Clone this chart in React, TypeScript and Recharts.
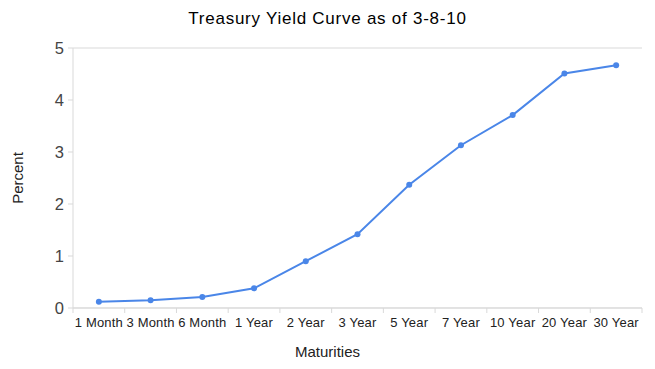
import React from "react";
import { LineChart, Line, XAxis, YAxis, CartesianGrid } from "recharts";

const maturities = ["1 Month", "3 Month", "6 Month", "1 Year", "2 Year", "3 Year", "5 Year", "7 Year", "10 Year", "20 Year", "30 Year"];
const yields = [0.12, 0.15, 0.21, 0.38, 0.90, 1.42, 2.37, 3.13, 3.71, 4.51, 4.67];
const yTicks = [0, 1, 2, 3, 4, 5];

const data = maturities.map((m, i) => ({ m, v: yields[i] }));

const FONT = "'Liberation Sans', Arial, sans-serif";
const W = 655;
const H = 369;
const LEFT = 73;
const RIGHT = 13;
const BAND = (W - LEFT - RIGHT) / maturities.length;

const XTick = (props: any) => {
  const { x, y, payload } = props;
  return (
    <g>
      <line x1={x - BAND / 2} x2={x - BAND / 2} y1={y - 8} y2={y - 3} stroke="#d9d9d9" />
      {props.index === maturities.length - 1 && (
        <line x1={x + BAND / 2} x2={x + BAND / 2} y1={y - 8} y2={y - 3} stroke="#d9d9d9" />
      )}
      <text x={x} y={y + 11} textAnchor="middle" fontSize={13} fill="#222" fontFamily={FONT} letterSpacing={0.2}>
        {payload.value}
      </text>
    </g>
  );
};

export default function App() {
  return (
    <div style={{ position: "absolute", left: 0, top: 0, width: W, height: H, background: "#fff" }}>
      <div
        style={{
          position: "absolute",
          left: 0,
          top: 9,
          width: W,
          textAlign: "center",
          fontFamily: FONT,
          fontSize: 17,
          letterSpacing: 0.75,
          color: "#000",
        }}
      >
        Treasury Yield Curve as of 3-8-10
      </div>
      <div
        style={{
          position: "absolute",
          left: 0,
          top: 343,
          width: W,
          textAlign: "center",
          fontFamily: FONT,
          fontSize: 15,
          color: "#222",
        }}
      >
        Maturities
      </div>
      <LineChart
        width={W}
        height={H}
        data={data}
        margin={{ top: 48, right: RIGHT, bottom: 0, left: 0 }}
      >
        <CartesianGrid vertical={false} stroke="#d9d9d9" />
        <XAxis
          dataKey="m"
          axisLine={{ stroke: "#d9d9d9" }}
          tickLine={false}
          tick={<XTick />}
          interval={0}
          height={61}
          padding={{ left: BAND / 2, right: BAND / 2 }}
        />
        <YAxis
          yAxisId="l"
          domain={[0, 5]}
          ticks={yTicks}
          width={LEFT}
          axisLine={{ stroke: "#d9d9d9" }}
          tickLine={{ stroke: "#d9d9d9" }}
          tickSize={5}
          tickMargin={4}
          tick={{ fontSize: 16.5, fill: "#444", fontFamily: FONT }}
          label={{
            value: "Percent",
            angle: -90,
            position: "insideLeft",
            offset: 18,
            style: { fontSize: 15, fill: "#222", fontFamily: FONT, textAnchor: "middle" },
          }}
        />
        <YAxis
          yAxisId="r"
          orientation="right"
          domain={[0, 5]}
          width={0}
          tick={false}
          tickLine={false}
          axisLine={{ stroke: "#d9d9d9" }}
        />
        <Line
          yAxisId="l"
          type="linear"
          dataKey="v"
          stroke="#4a86e8"
          strokeWidth={2}
          dot={{ r: 3, fill: "#4a86e8", stroke: "#4a86e8", strokeWidth: 0 }}
          isAnimationActive={false}
        />
      </LineChart>
    </div>
  );
}
